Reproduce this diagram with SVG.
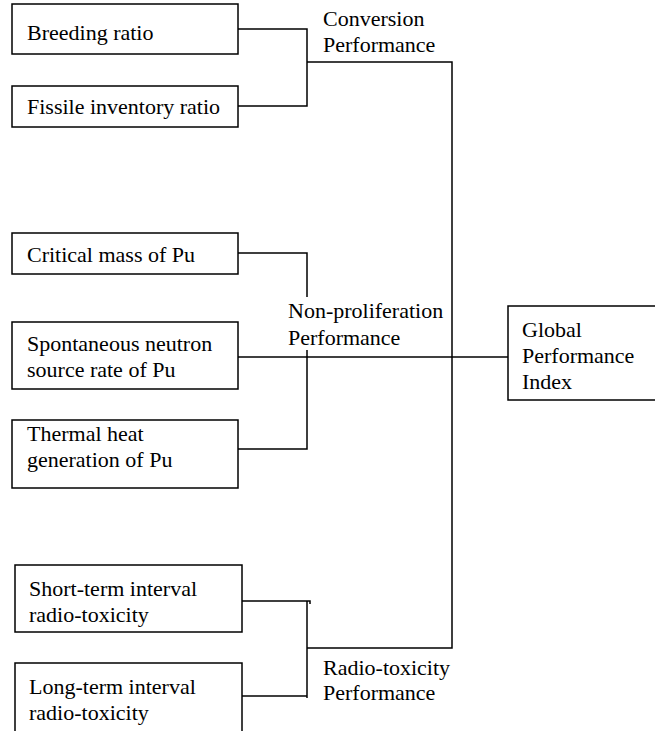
<svg xmlns="http://www.w3.org/2000/svg" width="655" height="731" viewBox="0 0 655 731">
<style>
.box{fill:#fff;stroke:#000;stroke-width:1.5}
.t{font-family:"Liberation Serif","Times New Roman",serif;font-size:22px;fill:#000}
.c{fill:none;stroke:#000;stroke-width:1.5}
</style>
<rect width="655" height="731" fill="#fff"/>
<g id="connectors">
<path class="c" d="M238,29 H307 V106 H238"/>
<path class="c" d="M307,62 H452 V648 H307"/>
<path class="c" d="M238,253 H307 V297"/>
<path class="c" d="M307,350 V449 H238"/>
<path class="c" d="M238,357 H508"/>
<path class="c" d="M242,601 H310 V604"/>
<path class="c" d="M307,601 V698"/>
<path class="c" d="M242,696 H307"/>
</g>
<g id="breeding"><rect class="box" x="12" y="4" width="226" height="50"/><text class="t" x="27" y="40">Breeding ratio</text></g>
<g id="fissile"><rect class="box" x="12" y="86" width="226" height="41"/><text class="t" x="27" y="114">Fissile inventory ratio</text></g>
<g id="conversion"><text class="t" x="323" y="26">Conversion</text><text class="t" x="323" y="52">Performance</text></g>
<g id="critical"><rect class="box" x="12" y="233" width="226" height="41"/><text class="t" x="27" y="262">Critical mass of Pu</text></g>
<g id="spontaneous"><rect class="box" x="12" y="322" width="226" height="67"/><text class="t" x="27" y="351">Spontaneous neutron</text><text class="t" x="27" y="377">source rate of Pu</text></g>
<g id="thermal"><rect class="box" x="12" y="420" width="226" height="68"/><text class="t" x="27" y="441">Thermal heat</text><text class="t" x="27" y="467">generation of Pu</text></g>
<g id="nonprolif"><text class="t" x="288" y="318">Non-proliferation</text><text class="t" x="288" y="345">Performance</text></g>
<g id="short"><rect class="box" x="15" y="565" width="227" height="67"/><text class="t" x="29" y="596">Short-term interval</text><text class="t" x="29" y="622">radio-toxicity</text></g>
<g id="long"><rect class="box" x="15" y="663" width="227" height="80"/><text class="t" x="29" y="694">Long-term interval</text><text class="t" x="29" y="720">radio-toxicity</text></g>
<g id="radiotox"><text class="t" x="323" y="675">Radio-toxicity</text><text class="t" x="323" y="700">Performance</text></g>
<g id="global"><rect class="box" x="508" y="306" width="160" height="94"/><text class="t" x="522" y="337">Global</text><text class="t" x="522" y="363">Performance</text><text class="t" x="522" y="389">Index</text></g>
</svg>
